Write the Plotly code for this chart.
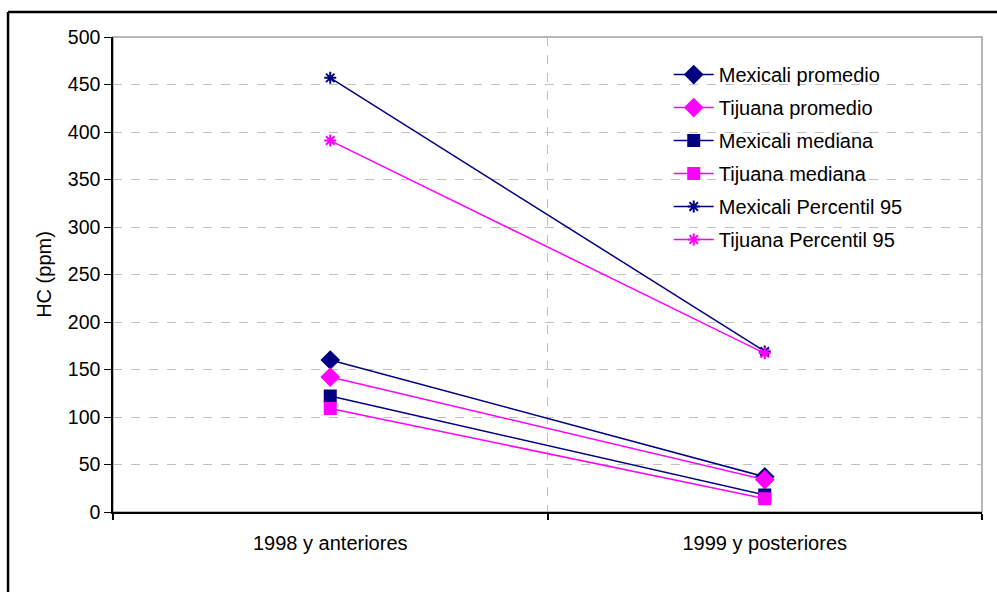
import plotly.graph_objects as go

categories = ["1998 y anteriores", "1999 y posteriores"]
series_names = ["Mexicali promedio", "Tijuana promedio", "Mexicali mediana",
                "Tijuana mediana", "Mexicali Percentil 95", "Tijuana Percentil 95"]
mexicali_promedio = [160, 37]
tijuana_promedio = [142, 34]
mexicali_mediana = [122, 18]
tijuana_mediana = [109, 14]
mexicali_p95 = [457, 169]
tijuana_p95 = [391, 167]
y_ticks = list(range(0, 501, 50))

NAVY = "#000080"
MAG = "#FF00FF"
styles = [
    (mexicali_promedio, NAVY, "diamond", 13),
    (tijuana_promedio, MAG, "diamond", 13),
    (mexicali_mediana, NAVY, "square", 11),
    (tijuana_mediana, MAG, "square", 11),
    (mexicali_p95, NAVY, "asterisk-open", 10),
    (tijuana_p95, MAG, "asterisk-open", 10),
]

xpos = list(range(len(categories)))
fig = go.Figure()
for i, (name, (vals, col, sym, sz)) in enumerate(zip(series_names, styles)):
    fig.add_trace(go.Scatter(
        x=xpos, y=vals, name=name, mode="lines+markers", legendgroup=f"g{i}",
        line=dict(color=col, width=1.5),
        marker=dict(symbol=sym, size=sz, color=col, line=dict(color=col, width=2)),
    ))

FONT = "Liberation Sans, Arial, sans-serif"
fig.update_layout(
    width=997, height=592,
    margin=dict(l=113, r=15, t=37, b=80),
    paper_bgcolor="white", plot_bgcolor="white",
    font=dict(family=FONT, size=20, color="black"),
    showlegend=True,
    legend=dict(x=0.6395, y=0.962, xanchor="left", yanchor="top",
                bgcolor="rgba(0,0,0,0)", font=dict(size=20), tracegroupgap=4,
                itemwidth=40),
    xaxis=dict(
        range=[-0.5, 1.5], tickmode="array", tickvals=xpos, ticktext=categories,
        ticks="", showgrid=False, zeroline=False,
        showline=True, linecolor="black", linewidth=2,
        ticklabelstandoff=12, tickfont=dict(size=20),
        minor=dict(tickmode="linear", tick0=-0.5, dtick=1, ticks="outside",
                   ticklen=6, tickcolor="black", tickwidth=1.5,
                   showgrid=True, gridcolor="#c0c0c0", griddash="dash", gridwidth=1),
    ),
    yaxis=dict(
        range=[0, 500], tickmode="array", tickvals=y_ticks,
        ticks="outside", ticklen=7, tickcolor="black", tickwidth=1,
        tickfont=dict(size=19.5),
        showgrid=True, gridcolor="#c0c0c0", griddash="dash", gridwidth=1,
        zeroline=False, showline=True, linecolor="black", linewidth=1.5,
        title=dict(text="HC (ppm)", font=dict(size=20), standoff=11),
    ),
    shapes=[
        dict(type="rect", xref="paper", yref="paper", x0=0, y0=0, x1=1, y1=1,
             line=dict(color="#a0a0a0", width=1.5), layer="below"),
        dict(type="line", xref="paper", yref="paper", x0=-0.1208, y0=1.0526,
             x1=1.2, y1=1.0526, line=dict(color="black", width=2.5)),
        dict(type="line", xref="paper", yref="paper", x0=-0.1208, y0=1.0526,
             x1=-0.1208, y1=-0.3, line=dict(color="black", width=2.5)),
    ],
)

fig.write_html("out.html")
